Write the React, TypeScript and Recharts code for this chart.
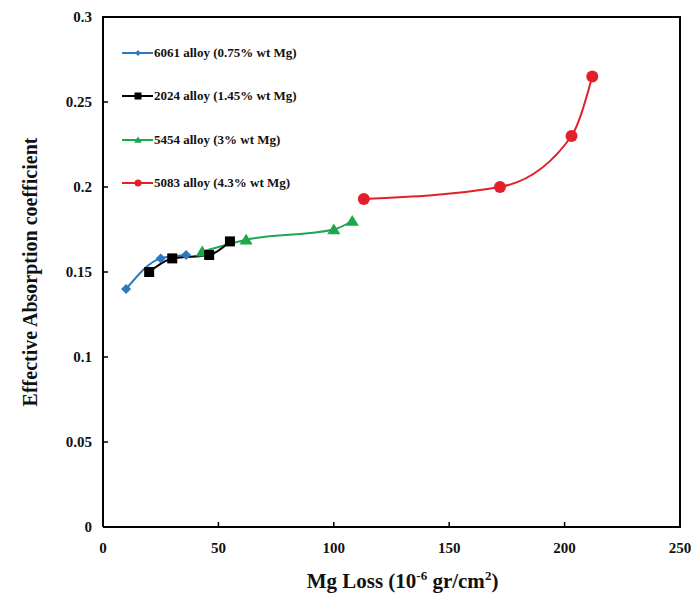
import React from 'react';
import { LineChart, Line, XAxis, YAxis } from 'recharts';

const a6061X = [10, 25, 36];
const a6061Y = [0.14, 0.158, 0.16];
const a2024X = [20, 30, 46, 55];
const a2024Y = [0.15, 0.158, 0.16, 0.168];
const a5454X = [43, 62, 100, 108];
const a5454Y = [0.162, 0.169, 0.175, 0.18];
const a5083X = [113, 172, 203, 212];
const a5083Y = [0.193, 0.2, 0.23, 0.265];

const xTicks = [0, 50, 100, 150, 200, 250];
const yTicks = [0, 0.05, 0.1, 0.15, 0.2, 0.25, 0.3];

// plot frame drawn through the chart scales (domain corners)
const frameX = [0, 0, 250, 250, 0];
const frameY = [0, 0.3, 0.3, 0, 0];
const xTickLen = 0.003; // inward tick length in y-units
const yTickLen = 2.2; // inward tick length in x-units

const zip = (xs: number[], ys: (number | null)[]) => xs.map((x, i) => ({ x, y: ys[i] }));

const xTickMarks = xTicks.slice(1, -1).flatMap((t) => [
  { x: t, y: 0 },
  { x: t, y: xTickLen },
  { x: t, y: null },
]);
const yTickMarks = yTicks.slice(1, -1).flatMap((t) => [
  { x: 0, y: t },
  { x: yTickLen, y: t },
  { x: yTickLen, y: null },
]);

const FONT = 'Liberation Serif, Times New Roman, serif';
const BLUE = '#2F78BE';
const BLACK = '#000000';
const GREEN = '#1EA84E';
const RED = '#E3202A';

type Shape = 'diamond' | 'square' | 'triangle' | 'circle';

const drawShape = (shape: Shape, cx: number, cy: number, color: string, s: number, key?: string) => {
  if (shape === 'diamond') {
    return <polygon key={key} points={`${cx},${cy - s} ${cx + s},${cy} ${cx},${cy + s} ${cx - s},${cy}`} fill={color} />;
  }
  if (shape === 'square') {
    return <rect key={key} x={cx - s} y={cy - s} width={2 * s} height={2 * s} fill={color} />;
  }
  if (shape === 'triangle') {
    return <polygon key={key} points={`${cx},${cy - s} ${cx + s * 1.1},${cy + s * 0.8} ${cx - s * 1.1},${cy + s * 0.8}`} fill={color} />;
  }
  return <circle key={key} cx={cx} cy={cy} r={s} fill={color} />;
};

const makeDot = (shape: Shape, color: string, s: number) => (props: any) => {
  const { cx, cy, index } = props;
  return drawShape(shape, cx, cy, color, s, `${shape}-${index}`);
};

const series = [
  { name: '6061 alloy (0.75% wt Mg)', data: zip(a6061X, a6061Y), color: BLUE, shape: 'diamond' as Shape, size: 5 },
  { name: '2024 alloy (1.45% wt Mg)', data: zip(a2024X, a2024Y), color: BLACK, shape: 'square' as Shape, size: 5 },
  { name: '5454 alloy (3% wt Mg)', data: zip(a5454X, a5454Y), color: GREEN, shape: 'triangle' as Shape, size: 6 },
  { name: '5083 alloy (4.3% wt Mg)', data: zip(a5083X, a5083Y), color: RED, shape: 'circle' as Shape, size: 6 },
];
const drawOrder = [0, 2, 1, 3];

const LegendBox = () => (
  <div style={{ position: 'absolute', left: 122, top: 31, display: 'flex', flexDirection: 'column' }}>
    {series.map((s) => (
      <div key={s.name} style={{ display: 'flex', alignItems: 'center', height: 43.5 }}>
        <svg width={31} height={12} style={{ display: 'block' }}>
          <line x1={0} y1={6} x2={31} y2={6} stroke={s.color} strokeWidth={2} />
          {drawShape(s.shape, 16, 6, s.color, s.shape === 'diamond' ? 3 : 3.5)}
        </svg>
        <span style={{ fontFamily: FONT, fontWeight: 'bold', fontSize: 13, color: '#111', marginLeft: 1, whiteSpace: 'nowrap' }}>{s.name}</span>
      </div>
    ))}
  </div>
);

const XLabel = (props: any) => {
  const vb = props.viewBox || {};
  const cx = vb.x + vb.width / 2 + 11;
  return (
    <text x={cx} y={588} textAnchor="middle" fontWeight="bold" fontSize={21} fill="#111">
      Mg Loss (10<tspan fontSize={13} dy={-8}>-6</tspan><tspan dy={8}> gr/cm</tspan><tspan fontSize={13} dy={-8}>2</tspan><tspan dy={8}>)</tspan>
    </text>
  );
};

const YLabel = (props: any) => {
  const vb = props.viewBox || {};
  const cy = vb.y + vb.height / 2;
  return (
    <text x={37} y={cy} transform={`rotate(-90, 37, ${cy})`} textAnchor="middle" fontWeight="bold" fontSize={20} fill="#111">
      Effective Absorption coefficient
    </text>
  );
};

const XTick = (props: any) => {
  const { x, y, payload } = props;
  return (
    <text x={x} y={y + 19} textAnchor="middle" fontWeight="bold" fontSize={15} fill="#111">
      {payload.value}
    </text>
  );
};

const YTick = (props: any) => {
  const { x, y, payload } = props;
  return (
    <text x={x - 4} y={y + 5} textAnchor="end" fontWeight="bold" fontSize={15} fill="#111">
      {payload.value}
    </text>
  );
};

export default function App() {
  return (
    <div style={{ position: 'absolute', left: 0, top: 0, width: 692, height: 600, background: '#fff', fontFamily: FONT }}>
      <LineChart width={692} height={600} margin={{ top: 17, right: 12, bottom: 0, left: 0 }}>
        <XAxis
          dataKey="x"
          type="number"
          domain={[0, 250]}
          ticks={xTicks}
          height={73}
          axisLine={false}
          tickLine={false}
          tickSize={5}
          tick={<XTick />}
          label={<XLabel />}
        />
        <YAxis
          type="number"
          domain={[0, 0.3]}
          ticks={yTicks}
          width={103}
          axisLine={false}
          tickLine={false}
          tickSize={5}
          tick={<YTick />}
          label={<YLabel />}
        />
        <Line data={zip(frameX, frameY)} dataKey="y" type="linear" stroke="#000" strokeWidth={2} dot={false} activeDot={false} legendType="none" isAnimationActive={false} />
        <Line data={xTickMarks} dataKey="y" type="linear" stroke="#000" strokeWidth={1.5} dot={false} activeDot={false} legendType="none" isAnimationActive={false} />
        <Line data={yTickMarks} dataKey="y" type="linear" stroke="#000" strokeWidth={1.5} dot={false} activeDot={false} legendType="none" isAnimationActive={false} />
        {drawOrder.map((i) => {
          const s = series[i];
          return (
            <Line
              key={s.name}
              data={s.data}
              dataKey="y"
              name={s.name}
              type="monotone"
              stroke={s.color}
              strokeWidth={2}
              dot={makeDot(s.shape, s.color, s.size)}
              activeDot={false}
              isAnimationActive={false}
            />
          );
        })}
      </LineChart>
      <LegendBox />
    </div>
  );
}
